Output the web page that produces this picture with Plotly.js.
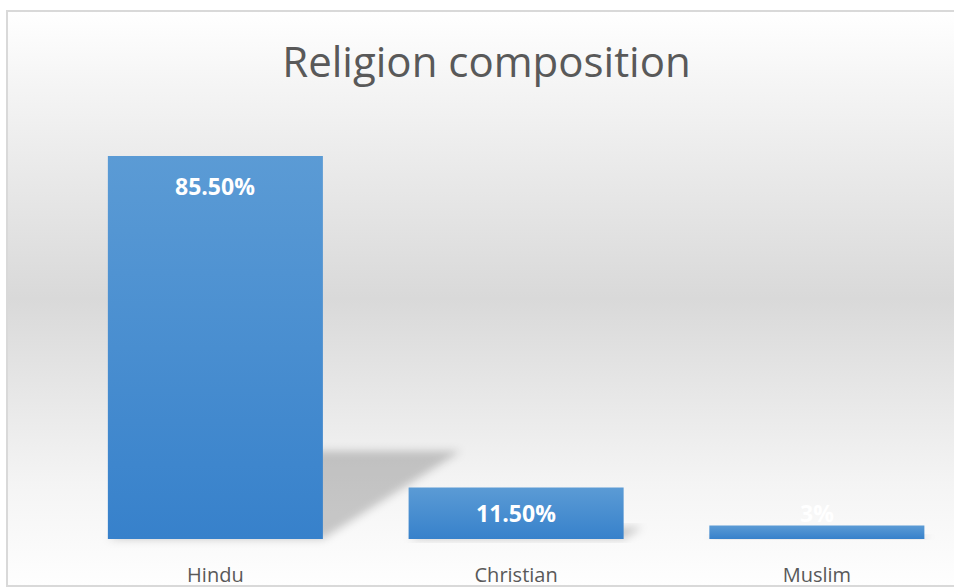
<!DOCTYPE html>
<html>
<head>
<meta charset="utf-8">
<script src="https://cdn.plot.ly/plotly-3.0.1.min.js"></script>
<style>
  html, body { margin: 0; padding: 0; width: 954px; height: 587px; overflow: hidden; background: #ffffff; }
  #bg { position: absolute; left: 8px; top: 12px; width: 960px; height: 573px;
        background: linear-gradient(to bottom, #ffffff 0%, #f3f3f3 15%, #d9d9d9 50%, #f4f4f4 82%, #fefefe 100%); }
  #chart { position: absolute; left: 0; top: 0; width: 954px; height: 587px; }
  #frame { position: absolute; left: 6px; top: 10px; width: 960px; height: 573px;
           border: 2px solid #d9d9d9; pointer-events: none; }
</style>
</head>
<body>
<div id="bg"></div>
<div id="chart"></div>
<div id="frame"></div>
<script>
// ---- data ----
const categories = ["Hindu", "Christian", "Muslim"];
const values = [85.5, 11.5, 3];
const valueLabels = ["85.50%", "11.50%", "3%"];
const chartTitle = "Religion composition";

// ---- layout constants ----
const W = 954, H = 587;
const margin = { l: 65, r: 0, t: 100, b: 48 };
const xRange = [-0.5, 2.456];
const yRange = [0, 98];
const bargap = 0.285;
const plotW = W - margin.l - margin.r;
const plotH = H - margin.t - margin.b;
const pxPerY = plotH / (yRange[1] - yRange[0]);
const pxPerX = plotW / (xRange[1] - xRange[0]);

const labelFont = { family: 'Open Sans, sans-serif', size: 23, color: '#ffffff', weight: 'bold' };
// data labels: inside near top (or centred for short bars), outside above for tiny bars
const annotations = values.map((v, i) => {
  const hPx = v * pxPerY;
  const y = hPx > 30 ? Math.max(v - 30 / pxPerY, v / 2) : v + 13 / pxPerY;
  return { x: categories[i], y: y, xref: 'x', yref: 'y', text: valueLabels[i], showarrow: false,
           yanchor: 'middle', font: labelFont };
});

// perspective shadows behind bars (derived from values)
const half = (1 - bargap) / 2;
const toPX = x => (x - xRange[0]) / (xRange[1] - xRange[0]);
const toPY = y => (y - yRange[0]) / (yRange[1] - yRange[0]);
const shapes = values.map((v, i) => {
  const hPx = v * pxPerY;
  const dx = 0.36 * hPx / pxPerX;
  const h = 0.23 * v;
  const x0 = i - half, x1 = i + half;
  const path = `M ${toPX(x0)} ${toPY(0)} L ${toPX(x1)} ${toPY(0)} L ${toPX(x1 + dx)} ${toPY(h)} L ${toPX(x0 + dx)} ${toPY(h)} Z`;
  return { type: 'path', xref: 'paper', yref: 'paper', path: path, layer: 'below',
           fillcolor: 'rgba(0,0,0,0.2)', line: { width: 0 } };
});

const trace = {
  type: 'bar', x: categories, y: values,
  marker: { color: '#4a8fd1', line: { width: 0 } },
  hoverinfo: 'none'
};

const layout = {
  width: W, height: H,
  margin: margin,
  paper_bgcolor: 'rgba(0,0,0,0)',
  plot_bgcolor: 'rgba(0,0,0,0)',
  bargap: bargap,
  showlegend: false,
  title: { text: chartTitle, x: 486.5 / W, xanchor: 'center', y: 1 - 62 / H, yanchor: 'middle', yref: 'container',
           font: { family: 'Open Sans, sans-serif', size: 42, color: '#595959' } },
  xaxis: { range: xRange, showgrid: false, zeroline: false, showline: false, ticks: '',
           ticklabelstandoff: 22,
           tickfont: { family: 'Open Sans, sans-serif', size: 20, color: '#595959' } },
  yaxis: { range: yRange, visible: false, showgrid: false, zeroline: false },
  annotations: annotations,
  shapes: shapes
};

Plotly.newPlot('chart', [trace], layout, { staticPlot: true, displayModeBar: false }).then(gd => {
  const svgNS = 'http://www.w3.org/2000/svg';
  const svg = gd.querySelector('.main-svg');
  let defs = svg.querySelector('defs');
  if (!defs) { defs = document.createElementNS(svgNS, 'defs'); svg.insertBefore(defs, svg.firstChild); }
  // bar gradient
  const grad = document.createElementNS(svgNS, 'linearGradient');
  grad.setAttribute('id', 'barGrad');
  grad.setAttribute('x1', '0'); grad.setAttribute('y1', '0');
  grad.setAttribute('x2', '0'); grad.setAttribute('y2', '1');
  [['0', '#5b9bd5'], ['1', '#3781cb']].forEach(([o, c]) => {
    const s = document.createElementNS(svgNS, 'stop');
    s.setAttribute('offset', o); s.setAttribute('stop-color', c);
    grad.appendChild(s);
  });
  defs.appendChild(grad);
  // shadow blur
  const filt = document.createElementNS(svgNS, 'filter');
  filt.setAttribute('id', 'shadowBlur');
  filt.setAttribute('x', '-30%'); filt.setAttribute('y', '-30%');
  filt.setAttribute('width', '160%'); filt.setAttribute('height', '160%');
  const blur = document.createElementNS(svgNS, 'feGaussianBlur');
  blur.setAttribute('stdDeviation', '4');
  filt.appendChild(blur);
  defs.appendChild(filt);

  gd.querySelectorAll('.bars .point path').forEach(p => { p.style.fill = 'url(#barGrad)'; });
  gd.querySelectorAll('.layer-below .shapelayer path').forEach(p => { p.setAttribute('filter', 'url(#shadowBlur)'); });
});
</script>
</body>
</html>
